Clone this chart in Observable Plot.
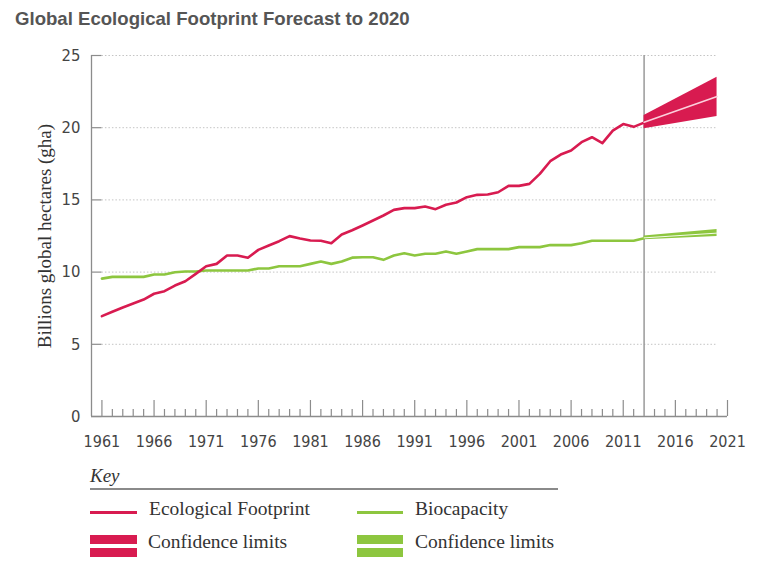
<!DOCTYPE html>
<html>
<head>
<meta charset="utf-8">
<script src="https://cdn.jsdelivr.net/npm/d3@7"></script>
<script src="https://cdn.jsdelivr.net/npm/@observablehq/plot@0.6"></script>
<style>
  html, body { margin: 0; padding: 0; background: #fff; }
  #wrap { position: relative; width: 758px; height: 565px; overflow: hidden; }
  #title { position: absolute; left: 15px; top: 10px; font-family: "Liberation Sans", Arial, sans-serif; font-weight: bold; font-size: 18.6px; line-height: 1; color: #555; white-space: nowrap; }
  #chart { position: absolute; left: 0; top: 40px; }
  .lg { position: absolute; font-family: "Liberation Serif", "Times New Roman", serif; color: #333; line-height: 1; white-space: nowrap; }
  .sw { position: absolute; }
</style>
</head>
<body>
<div id="wrap">
  <div id="title">Global Ecological Footprint Forecast to 2020</div>
  <div id="chart"></div>
  <div id="legend"></div>
</div>
<script>
// ---- Data ----
const years = [1961,1962,1963,1964,1965,1966,1967,1968,1969,1970,1971,1972,1973,1974,1975,1976,1977,1978,1979,1980,
  1981,1982,1983,1984,1985,1986,1987,1988,1989,1990,1991,1992,1993,1994,1995,1996,1997,1998,1999,2000,
  2001,2002,2003,2004,2005,2006,2007,2008,2009,2010,2011,2012,2013];
const footprint = [6.95,7.25,7.55,7.82,8.1,8.5,8.68,9.07,9.37,9.88,10.41,10.57,11.15,11.15,10.99,11.54,11.84,12.14,12.49,12.33,
  12.19,12.17,12.0,12.6,12.9,13.23,13.57,13.92,14.31,14.43,14.43,14.54,14.36,14.66,14.82,15.19,15.35,15.37,15.53,15.97,
  15.97,16.11,16.8,17.68,18.14,18.42,19.0,19.34,18.93,19.8,20.25,20.06,20.35];
const biocapacity = [9.55,9.67,9.67,9.67,9.67,9.83,9.83,9.99,10.04,10.04,10.11,10.11,10.11,10.11,10.11,10.25,10.25,10.41,10.41,10.41,
  10.57,10.73,10.57,10.73,11.0,11.03,11.03,10.85,11.15,11.31,11.15,11.27,11.27,11.43,11.27,11.43,11.59,11.59,11.59,11.59,
  11.73,11.73,11.73,11.87,11.87,11.87,12.0,12.17,12.17,12.17,12.17,12.17,12.35];

const forecastYears = [2013, 2020];
const efLow  = [19.92, 20.78];
const efMid  = [20.38, 22.16];
const efHigh = [20.85, 23.5];
const bcLow  = [12.24, 12.46];
const bcMid  = [12.37, 12.70];
const bcHigh = [12.50, 12.95];

const yTicks = [0, 5, 10, 15, 20, 25];
const xLabelYears = [1961, 1966, 1971, 1976, 1981, 1986, 1991, 1996, 2001, 2006, 2011, 2016, 2021];
const forecastStart = 2013;
const yTitle = "Billions global hectares (gha)";
const titleText = "Global Ecological Footprint Forecast to 2020";

// ---- Build tables ----
const hist = years.map((y, i) => ({year: y, ef: footprint[i], bc: biocapacity[i]}));
const fc = forecastYears.map((y, i) => ({year: y, efLow: efLow[i], efMid: efMid[i], efHigh: efHigh[i], bcLow: bcLow[i], bcMid: bcMid[i], bcHigh: bcHigh[i]}));
const minorYears = d3.range(1962, 2021).filter(y => !xLabelYears.includes(y) && y !== forecastStart);

const RED = "#d81b50";
const GREEN = "#8dc63f";
const AX = "#8c8c8c";
const numFont = "'Liberation Sans Narrow', 'DejaVu Sans Condensed', 'Arial Narrow', sans-serif";

const chart = Plot.plot({
  width: 758,
  height: 420,
  marginTop: 15,
  marginBottom: 44,
  marginLeft: 91,
  marginRight: 31,
  style: {background: "transparent", overflow: "visible"},
  x: {domain: [1960, 2021], axis: null},
  y: {domain: [0, 25], axis: null},
  marks: [
    // dotted gridlines
    Plot.ruleY(yTicks.filter(d => d > 0), {y: d => d, x1: 1961, x2: 2020, stroke: "#c4c4c4", strokeWidth: 1, strokeDasharray: "1.5,2"}),
    // short y ticks
    Plot.ruleY(yTicks, {y: d => d, x1: 1960, x2: 1961, stroke: AX, strokeWidth: 1.2}),
    // axis lines
    Plot.ruleX([1960], {x: d => d, y1: 0, y2: 25, stroke: AX, strokeWidth: 1.3}),
    Plot.ruleY([0], {y: d => d, x1: 1960, x2: 2021, stroke: AX, strokeWidth: 1.3}),
    // x ticks
    Plot.ruleX(xLabelYears, {x: d => d, y1: 0, y2: 0, insetTop: -16, stroke: AX, strokeWidth: 1.2}),
    Plot.ruleX(minorYears, {x: d => d, y1: 0, y2: 0, insetTop: -7, stroke: AX, strokeWidth: 1.2}),
    // forecast start line
    Plot.ruleX([forecastStart], {x: d => d, y1: 0, y2: 25, stroke: "#999", strokeWidth: 1.5}),
    // historical lines
    Plot.line(hist, {x: "year", y: "bc", stroke: GREEN, strokeWidth: 2.6}),
    Plot.line(hist, {x: "year", y: "ef", stroke: RED, strokeWidth: 2.6}),
    // forecast bands
    Plot.areaY(fc, {x: "year", y1: "bcLow", y2: "bcHigh", fill: GREEN}),
    Plot.line(fc, {x: "year", y: "bcMid", stroke: "#f4fbe9", strokeWidth: 1}),
    Plot.areaY(fc, {x: "year", y1: "efLow", y2: "efHigh", fill: RED}),
    Plot.line(fc, {x: "year", y: "efMid", stroke: "#fbd0dc", strokeWidth: 1.6}),
    // tick labels
    Plot.text(yTicks, {x: 1960, y: d => d, dx: -11, text: d => String(d), textAnchor: "end", fontFamily: numFont, fontSize: 16.5, fill: "#444"}),
    Plot.text(xLabelYears, {x: d => d, y: 0, dy: 25, text: d => String(d), fontFamily: numFont, fontSize: 16, fill: "#444"}),
    // y title
    Plot.text([yTitle], {frameAnchor: "left", dx: -47, rotate: -90, textAnchor: "middle", text: d => d, fontFamily: "'Liberation Serif', 'Times New Roman', serif", fontSize: 19, fill: "#333"})
  ]
});
document.getElementById("chart").appendChild(chart);

// ---- Legend ----
const legendItems = [
  {kind: "text", text: "Key", left: 90, cy: 475, size: 19, italic: true},
  {kind: "rule", left: 90, top: 488, w: 468, h: 2, color: "#8a8a8a"},
  {kind: "rule", left: 90, top: 511, w: 47, h: 3, color: RED},
  {kind: "text", text: "Ecological Footprint", left: 149, cy: 509, size: 19.5},
  {kind: "rule", left: 357, top: 511, w: 46, h: 3, color: GREEN},
  {kind: "text", text: "Biocapacity", left: 415, cy: 509, size: 19.5},
  {kind: "rule", left: 90, top: 535, w: 47, h: 9, color: RED},
  {kind: "rule", left: 90, top: 548, w: 47, h: 9, color: RED},
  {kind: "text", text: "Confidence limits", left: 148, cy: 541.5, size: 19.5},
  {kind: "rule", left: 357, top: 535, w: 46, h: 9, color: GREEN},
  {kind: "rule", left: 357, top: 548, w: 46, h: 9, color: GREEN},
  {kind: "text", text: "Confidence limits", left: 415, cy: 541.5, size: 19.5}
];
const lg = document.getElementById("legend");
for (const it of legendItems) {
  const el = document.createElement("div");
  if (it.kind === "text") {
    el.className = "lg";
    el.textContent = it.text;
    el.style.left = it.left + "px";
    el.style.top = (it.cy - it.size / 2) + "px";
    el.style.fontSize = it.size + "px";
    if (it.italic) el.style.fontStyle = "italic";
  } else {
    el.className = "sw";
    el.style.left = it.left + "px";
    el.style.top = it.top + "px";
    el.style.width = it.w + "px";
    el.style.height = it.h + "px";
    el.style.background = it.color;
  }
  lg.appendChild(el);
}
</script>
</body>
</html>
